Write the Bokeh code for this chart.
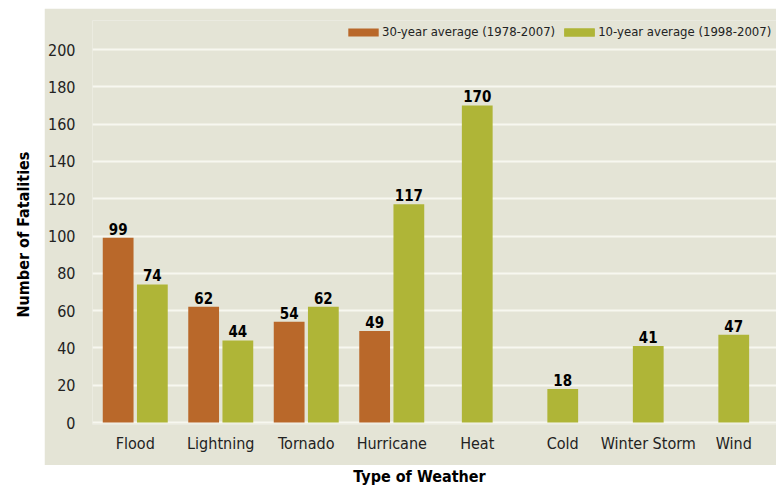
import math
from bokeh.plotting import figure
from bokeh.models import ColumnDataSource, FactorRange, Range1d, Legend, LegendItem, Label, FixedTicker
from bokeh.transform import dodge
from bokeh.layouts import row, column
from bokeh.embed import file_html
from bokeh.resources import INLINE
from bokeh.core.properties import value

# ---- data ----
categories = ["Flood", "Lightning", "Tornado", "Hurricane", "Heat", "Cold", "Winter Storm", "Wind"]
avg30 = [99, 62, 54, 49, None, None, None, None]
avg10 = [74, 44, 62, 117, 170, 18, 41, 47]
series_names = ["30-year average (1978-2007)", "10-year average (1998-2007)"]
y_ticks = [0, 20, 40, 60, 80, 100, 120, 140, 160, 180, 200]
x_title = "Type of Weather"
y_title = "Number of Fatalities"

# ---- styles ----
FONT = "DejaVu Sans Condensed"
ORANGE = "#B9682A"
GREEN = "#AFB537"
BEIGE = "#E4E4D6"
TXT = "#222222"

paired = [i for i, v in enumerate(avg30) if v is not None]
single = [i for i, v in enumerate(avg30) if v is None]

src_pair = ColumnDataSource(dict(
    cat=[categories[i] for i in paired],
    a30=[avg30[i] for i in paired],
    a10=[avg10[i] for i in paired],
    t30=[str(avg30[i]) for i in paired],
    t10=[str(avg10[i]) for i in paired],
))
src_single = ColumnDataSource(dict(
    cat=[categories[i] for i in single],
    a10=[avg10[i] for i in single],
    t10=[str(avg10[i]) for i in single],
))

p = figure(x_range=FactorRange(*categories), y_range=Range1d(-1.07, 215.55),
           width=732, height=457, output_backend="svg", toolbar_location=None,
           min_border_left=48, min_border_right=0, min_border_top=12, min_border_bottom=41)
p.background_fill_color = BEIGE
p.border_fill_color = BEIGE
p.outline_line_color = None
p.xgrid.visible = False
p.ygrid.grid_line_color = "#F7F7F0"
p.ygrid.grid_line_width = 2
p.yaxis.ticker = FixedTicker(ticks=y_ticks)
p.ygrid.ticker = FixedTicker(ticks=y_ticks)
for ax in (p.xaxis[0], p.yaxis[0]):
    ax.axis_line_color = None
    ax.major_tick_line_color = None
    ax.minor_tick_line_color = None
    ax.major_label_text_font = FONT
    ax.major_label_text_font_size = "16px"
    ax.major_label_text_color = TXT
p.yaxis.major_label_standoff = 11
p.xaxis.major_label_standoff = 3

W = 0.36
r30 = p.vbar(x=dodge("cat", -0.2, range=p.x_range), top="a30", width=W, source=src_pair,
             fill_color=ORANGE, line_color=None)
r10p = p.vbar(x=dodge("cat", 0.2, range=p.x_range), top="a10", width=W, source=src_pair,
              fill_color=GREEN, line_color=None)
r10s = p.vbar(x="cat", top="a10", width=W, source=src_single,
              fill_color=GREEN, line_color=None)

lab_kw = dict(text_align="center", text_baseline="bottom", y_offset=-3,
              text_font=value(FONT), text_font_style="bold", text_font_size="15px",
              text_color="black")
p.text(x=dodge("cat", -0.2, range=p.x_range), y="a30", text="t30", source=src_pair, **lab_kw)
p.text(x=dodge("cat", 0.2, range=p.x_range), y="a10", text="t10", source=src_pair, **lab_kw)
p.text(x="cat", y="a10", text="t10", source=src_single, **lab_kw)

legend = Legend(items=[LegendItem(label=series_names[0], renderers=[r30]),
                       LegendItem(label=series_names[1], renderers=[r10p, r10s])],
                orientation="horizontal", location=(252, 385),
                padding=0, margin=0, spacing=5, label_standoff=0,
                glyph_width=38, glyph_height=10,
                border_line_color=None, background_fill_alpha=0,
                label_text_font=FONT, label_text_font_size="13px", label_text_color=TXT)
p.add_layout(legend, "center")

# top white strip
top = figure(width=776, height=8, x_range=Range1d(0, 1), y_range=Range1d(0, 1),
             output_backend="svg", toolbar_location=None, x_axis_type=None, y_axis_type=None,
             min_border=0)
top.outline_line_color = None
top.background_fill_color = "white"
top.border_fill_color = "white"

# left title panel
left = figure(width=44, height=457, x_range=Range1d(0, 1), y_range=Range1d(0, 1),
              output_backend="svg", toolbar_location=None, x_axis_type=None, y_axis_type=None,
              min_border=0)
left.outline_line_color = None
left.background_fill_color = "white"
left.border_fill_color = "white"
left.add_layout(Label(x=23, y=190, x_units="screen", y_units="screen", text=y_title,
                      angle=math.pi / 2, text_align="center", text_baseline="middle",
                      text_font=FONT, text_font_style="bold", text_font_size="16px",
                      text_color="black"))

# bottom title panel
bottom = figure(width=776, height=22, x_range=Range1d(0, 1), y_range=Range1d(0, 1),
                output_backend="svg", toolbar_location=None, x_axis_type=None, y_axis_type=None,
                min_border=0)
bottom.outline_line_color = None
bottom.background_fill_color = "white"
bottom.border_fill_color = "white"
bottom.add_layout(Label(x=419, y=11, x_units="screen", y_units="screen", text=x_title,
                        text_align="center", text_baseline="middle",
                        text_font=FONT, text_font_style="bold", text_font_size="16px",
                        text_color="black"))

layout = column(top, row(left, p), bottom)
open("out.html", "w").write(file_html(layout, INLINE))
